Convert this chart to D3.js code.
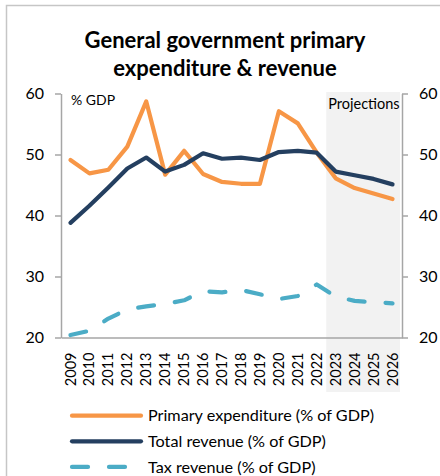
<!DOCTYPE html>
<html>
<head>
<meta charset="utf-8">
<script src="https://cdn.jsdelivr.net/npm/d3@7"></script>
<style>
  html, body { margin: 0; padding: 0; background: #fff; }
  svg { display: block; font-family: Lato, "Open Sans", sans-serif; }
</style>
</head>
<body>
<svg id="chart" width="440" height="476"></svg>
<script>
// Years on the horizontal axis
const years = ["2009","2010","2011","2012","2013","2014","2015","2016","2017",
               "2018","2019","2020","2021","2022","2023","2024","2025","2026"];
// First projected year
const projectionStart = "2023";

// Series, % of GDP
const primaryExpenditure = [49.1, 46.9, 47.5, 51.3, 58.7, 46.7, 50.6, 46.8, 45.5,
                            45.2, 45.2, 57.1, 55.1, 50.3, 46.1, 44.5, 43.6, 42.7];
const totalRevenue = [38.8, 41.6, 44.6, 47.7, 49.5, 47.2, 48.3, 50.2, 49.3,
                      49.5, 49.1, 50.4, 50.6, 50.3, 47.2, 46.6, 46.0, 45.1];
const taxRevenue = [20.4, 21.1, 23.1, 24.6, 25.1, 25.5, 26.1, 27.6, 27.4,
                    27.8, 27.1, 26.3, 26.8, 28.7, 26.7, 26.0, 25.8, 25.6];

const yTicks = [20, 30, 40, 50, 60];

const seriesNames = ["Primary expenditure (% of GDP)", "Total revenue (% of GDP)", "Tax revenue (% of GDP)"];
const seriesValues = [primaryExpenditure, totalRevenue, taxRevenue];
const seriesColors = ["#f79646", "#243f60", "#4bacc6"];
const seriesDash = [null, null, "16,21"];

const svg = d3.select("#chart");

// Outer chart frame
svg.append("rect")
  .attr("x", 6.5).attr("y", 5.5)
  .attr("width", 600).attr("height", 600)
  .attr("fill", "none").attr("stroke", "#c6c6c6").attr("stroke-width", 1.5);

// Title
const title = svg.append("text")
  .attr("text-anchor", "middle")
  .attr("font-weight", "bold")
  .attr("font-size", 22)
  .attr("fill", "#000");
title.append("tspan").attr("x", 225).attr("y", 48).text("General government primary");
title.append("tspan").attr("x", 225).attr("y", 76).text("expenditure & revenue");

const plotLeft = 61, plotRight = 402, plotTop = 93.5, plotBottom = 337.5;

const x = d3.scaleBand().domain(years).range([plotLeft, plotRight]).padding(0);
const y = d3.scaleLinear().domain([20, 60]).range([plotBottom, plotTop]);
const cx = d => x(d) + x.bandwidth() / 2;

// Shaded projection period
svg.append("rect")
  .attr("x", x(projectionStart))
  .attr("y", 92)
  .attr("width", plotRight - 2 - x(projectionStart))
  .attr("height", 392 - 92)
  .attr("fill", "#f2f2f2");

svg.append("text")
  .attr("x", x(projectionStart) + 2)
  .attr("y", 109)
  .attr("font-size", 14.5)
  .attr("fill", "#000")
  .text("Projections");

svg.append("text")
  .attr("x", 71)
  .attr("y", 105)
  .attr("font-size", 14)
  .attr("fill", "#000")
  .text("% GDP");

// Axes
const axisColor = "#a6a6a6";
function styleAxis(g) {
  g.select(".domain").attr("stroke", axisColor).attr("stroke-width", 1.5);
  g.selectAll(".tick line").attr("stroke", axisColor).attr("stroke-width", 1.5);
  g.selectAll(".tick text").attr("fill", "#000").attr("font-size", 16)
    .attr("font-family", "Lato, sans-serif");
}

svg.append("g")
  .attr("transform", `translate(${plotLeft},0)`)
  .call(d3.axisLeft(y).tickValues(yTicks).tickSize(6).tickSizeOuter(0).tickPadding(11))
  .call(styleAxis);

svg.append("g")
  .attr("transform", `translate(${plotRight},0)`)
  .call(d3.axisRight(y).tickValues(yTicks).tickSize(6).tickSizeOuter(0).tickPadding(11))
  .call(styleAxis);

const xAxis = svg.append("g")
  .attr("transform", `translate(0,${plotBottom})`)
  .call(d3.axisBottom(x).tickSize(0).tickSizeOuter(0).tickPadding(0))
  .call(styleAxis);
xAxis.selectAll(".tick text")
  .attr("font-size", 14.5)
  .attr("text-anchor", "end")
  .attr("dy", "0.35em")
  .attr("transform", "translate(0,15) rotate(-90)")
  .attr("x", 0).attr("y", 0);

// Series lines
const line = d3.line()
  .x((d, i) => cx(years[i]))
  .y(d => y(d));

seriesValues.forEach((vals, k) => {
  svg.append("path")
    .datum(vals)
    .attr("d", line)
    .attr("fill", "none")
    .attr("stroke", seriesColors[k])
    .attr("stroke-width", 4.2)
    .attr("stroke-linejoin", "round")
    .attr("stroke-linecap", "round")
    .attr("stroke-dasharray", seriesDash[k]);
});

// Legend
const legend = svg.append("g");
seriesNames.forEach((name, k) => {
  const ly = 415.7 + k * 25.6;
  legend.append("line")
    .attr("x1", 72).attr("x2", 141)
    .attr("y1", ly).attr("y2", ly)
    .attr("stroke", seriesColors[k])
    .attr("stroke-width", 4.2)
    .attr("stroke-linecap", "round")
    .attr("stroke-dasharray", seriesDash[k]);
  legend.append("text")
    .attr("x", 148)
    .attr("y", ly)
    .attr("dy", "0.35em")
    .attr("font-size", 16.2)
    .attr("fill", "#000")
    .text(name);
});
</script>
</body>
</html>
